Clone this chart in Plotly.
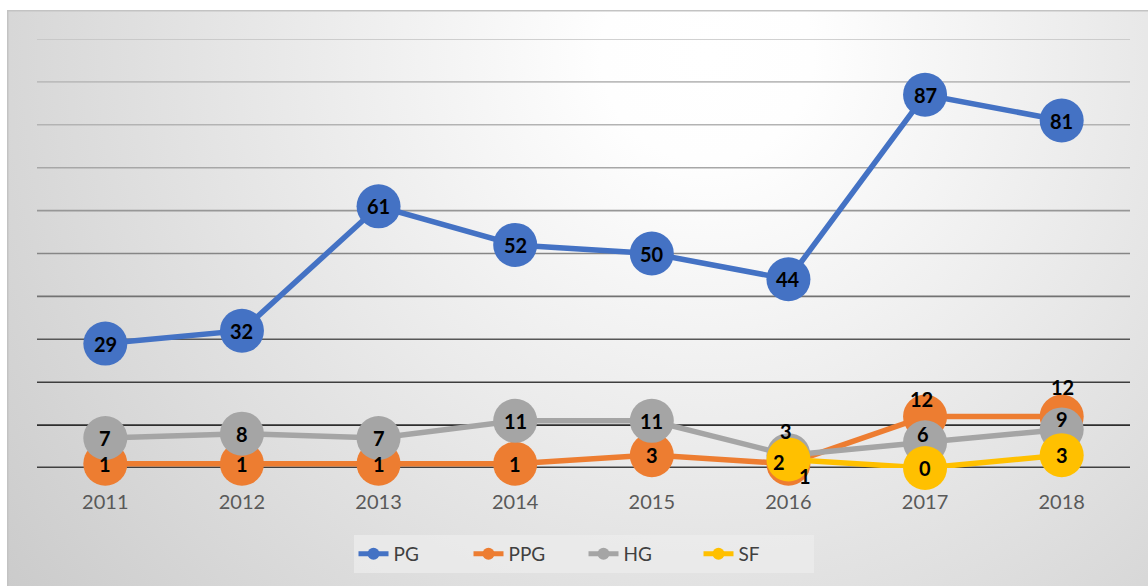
import base64
import plotly.graph_objects as go

# Publication counts per year
years = ["2011", "2012", "2013", "2014", "2015", "2016", "2017", "2018"]
pg = [29, 32, 61, 52, 50, 44, 87, 81]
ppg = [1, 1, 1, 1, 3, 1, 12, 12]
hg = [7, 8, 7, 11, 11, 3, 6, 9]
sf = [None, None, None, None, None, 2, 0, 3]

series = [
    ("PG", pg, "#4472C4"),
    ("PPG", ppg, "#ED7D31"),
    ("HG", hg, "#A5A5A5"),
    ("SF", sf, "#FFC000"),
]

# Label nudges (pixels) where labels would collide
label_shift = {
    ("PPG", "2016"): (17, -12),
    ("HG", "2016"): (-2, 24),
    ("SF", "2016"): (-9, -3),
    ("PPG", "2017"): (-4, 18),
    ("HG", "2017"): (-2, 8),
    ("PPG", "2018"): (1, 30),
    ("HG", "2018"): (0, 10),
}

# Gridline shades from top (light) to bottom (dark)
grid_levels = [10, 20, 30, 40, 50, 60, 70, 80, 90, 100]
grid_colors = ["#2e2e2e", "#3e3e3e", "#575757", "#727272", "#868686",
               "#979797", "#a7a7a7", "#b3b3b3", "#bcbcbc", "#c2c2c2"]

W, H = 1148, 586
ML, MR, MT, MB = 37, 18, 39, 118
PW, PH = W - ML - MR, H - MT - MB

# Radial gradient backdrop with a thin frame
bx, by = 7, 10
bw, bh = W - bx, H - by
svg = f"""<svg xmlns='http://www.w3.org/2000/svg' width='{bw}' height='{bh}'>
<defs><radialGradient id='g' gradientUnits='userSpaceOnUse' cx='700' cy='45' r='880'>
<stop offset='0' stop-color='#ffffff'/><stop offset='0.12' stop-color='#fefefe'/>
<stop offset='1' stop-color='#cbcbcb'/></radialGradient></defs>
<rect x='0' y='0' width='{bw}' height='{bh}' fill='url(#g)'/>
<rect x='0.75' y='0.75' width='{bw + 4}' height='{bh + 4}' fill='none' stroke='#c3c3c3' stroke-width='1.5'/>
</svg>"""
src = "data:image/svg+xml;base64," + base64.b64encode(svg.encode()).decode()

fig = go.Figure()
for name, vals, color in series:
    fig.add_trace(go.Scatter(
        x=years, y=vals, name=name, mode="lines+markers",
        line=dict(color=color, width=5.5),
        marker=dict(color=color, size=44, line=dict(width=0)),
        cliponaxis=False, connectgaps=False,
    ))

annotations = []
for name, vals, color in series:
    for i, (yr, v) in enumerate(zip(years, vals)):
        if v is None:
            continue
        dx, dy = label_shift.get((name, yr), (0, 0))
        annotations.append(dict(
            x=i, y=v, xref="x", yref="y", text=f"<b>{v}</b>", showarrow=False,
            xshift=dx, yshift=dy,
            font=dict(family="Lato", size=20, color="#000000"),
        ))

shapes = []
for lvl, col in zip(grid_levels, grid_colors):
    shapes.append(dict(type="line", xref="paper", yref="y", x0=0, x1=1,
                       y0=lvl, y1=lvl, layer="below",
                       line=dict(color=col, width=1.6)))
shapes.append(dict(type="line", xref="paper", yref="y", x0=0, x1=1,
                   y0=0, y1=0, layer="below",
                   line=dict(color="#404040", width=3)))

fig.update_layout(
    width=W, height=H,
    margin=dict(l=ML, r=MR, t=MT, b=MB),
    paper_bgcolor="#ffffff",
    plot_bgcolor="rgba(0,0,0,0)",
    showlegend=True,
    legend=dict(
        orientation="h", x=0.5, xanchor="center", y=-0.2005, yanchor="middle",
        bgcolor="rgba(236,236,236,0.75)", borderwidth=0,
        font=dict(family="Lato", size=19, color="#404040"),
        itemsizing="constant", entrywidth=70,
    ),
    images=[dict(source=src, xref="paper", yref="paper",
                 x=-(ML - bx) / PW, y=1 + (MT - by) / PH,
                 sizex=bw / PW, sizey=bh / PH,
                 xanchor="left", yanchor="top", sizing="stretch",
                 layer="below")],
    shapes=shapes,
    annotations=annotations,
)
fig.update_xaxes(type="category", range=[-0.5, 7.5], showgrid=False,
                 showline=False, zeroline=False, ticks="",
                 ticklabelstandoff=20,
                 tickfont=dict(family="Lato", size=20, color="#595959"))
fig.update_yaxes(range=[0, 100], showgrid=False, zeroline=False,
                 showline=False, showticklabels=False, ticks="")

fig.write_html("out.html")
